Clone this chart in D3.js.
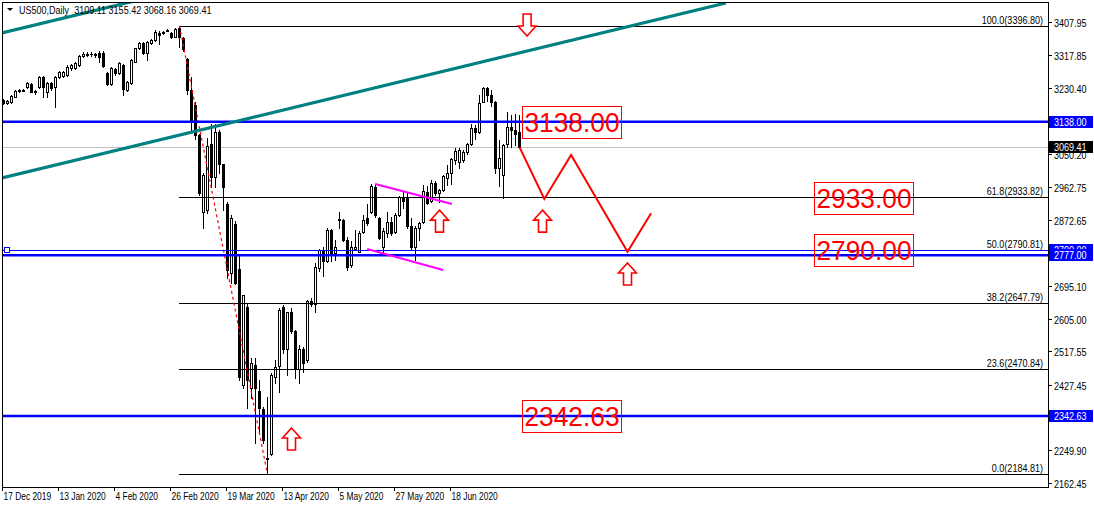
<!DOCTYPE html>
<html><head><meta charset="utf-8">
<script src="https://cdn.jsdelivr.net/npm/d3@7"></script>
<style>
body{margin:0;background:#fff}
svg{display:block}
text{font-family:"Liberation Sans",Arial,sans-serif}
</style>
</head><body>
<svg id="chart" width="1094" height="508"></svg>
<script>
// ---------- data ----------
const symbolTitle = "US500,Daily  3109.11 3155.42 3068.16 3069.41";
const opens  = [3196,3188,3192,3206,3221,3224,3233,3240,3219,3233,3260,3219,3243,3233,3258,3262,3264,3282,3282,3291,3316,3320,3322,3319,3325,3325,3269,3240,3280,3269,3291,3224,3242,3300,3336,3350,3323,3350,3359,3378,3377,3384,3377,3368,3390,3363,3307,3224,3183,3102,2895,2899,3078,2989,3111,3024,2915,2728,2862,2739,2426,2636,2417,2480,2411,2361,2230,2240,2447,2478,2638,2525,2625,2573,2469,2523,2494,2654,2645,2742,2790,2762,2846,2783,2872,2872,2818,2750,2795,2787,2841,2877,2895,2962,2877,2800,2838,2868,2840,2886,2935,2935,2855,2800,2850,2868,2948,2925,2971,2946,2954,2985,2998,3034,3030,3034,3057,3079,3120,3111,3192,3228,3210,3190,3012,2994,3079,3124,3115,3109.11];
const highs  = [3200,3197,3210,3224,3226,3226,3245,3242,3225,3262,3262,3245,3246,3261,3276,3276,3291,3295,3300,3318,3326,3327,3327,3324,3328,3328,3271,3285,3284,3300,3294,3248,3308,3338,3353,3353,3356,3362,3385,3384,3384,3389,3380,3392,3396.8,3366,3310,3260,3190,3105,3000,3093,3133,3133,3115,3025,2920,2885,2870,2777,2670,2647,2498,2498,2440,2368,2395,2458,2494,2634,2643,2625,2634,2575,2534,2530,2656,2661,2755,2795,2800,2851,2848,2819,2895,2875,2827,2815,2845,2842,2887,2915,2970,2968,2880,2850,2895,2880,2890,2938,2948,2945,2877,2855,2866,2968,2964,2980,2978,2957,2995,3021,3040,3068,3066,3062,3081,3131,3129,3211,3233,3232,3224,3195,3088,3079,3165,3156,3160,3155.42];
const lows   = [3185,3186,3188,3204,3219,3220,3230,3217,3214,3229,3204,3204,3225,3179,3255,3260,3262,3279,3280,3289,3314,3316,3315,3313,3300,3285,3238,3236,3265,3266,3210,3221,3240,3298,3334,3320,3305,3348,3357,3348,3375,3382,3365,3366,3341,3330,3212,3115,3090,2940,2852,2890,2962,2962,2998,2898,2715,2703,2700,2440,2417,2363,2390,2269,2298,2269,2184.81,2236,2431,2408,2512,2453,2566,2444,2433,2462,2489,2640,2625,2735,2721,2760,2761,2765,2850,2815,2737,2745,2790,2785,2838,2860,2890,2880,2822,2782,2827,2833,2838,2884,2905,2850,2793,2764,2817,2865,2915,2922,2939,2922,2950,2968,2969,3023,3012,3030,3051,3075,3090,3108,3190,3193,3181,2999,2965,2931,3070,3070,3075,3068.16];
const closes = [3188,3194,3207,3221,3224,3222,3242,3219,3222,3260,3233,3242,3228,3258,3273,3273,3287,3291,3296,3316,3320,3322,3320,3321,3314,3289,3240,3282,3269,3296,3226,3246,3305,3336,3350,3323,3354,3359,3381,3373,3381,3386,3368,3388,3368,3334,3224,3138,3102,2944,2994,3072,2989,3111,3024,2961,2737,2877,2703,2449,2670,2440,2487,2417,2363,2278,2226,2453,2476,2629,2525,2624,2573,2469,2525,2487,2654,2645,2746,2791,2762,2846,2783,2800,2876,2818,2745,2799,2800,2836,2872,2863,2965,2886,2823,2843,2868,2836,2886,2935,2925,2855,2800,2850,2863,2950,2917,2972,2946,2954,2990,2998,3036,3058,3061,3057,3079,3120,3111,3188,3228,3210,3190,3012,3039,3075,3124,3116,3106,3069.41];
const lastPrice = 3069.41;

const priceTickValues = [3407.95,3317.85,3230.40,3050.20,2962.75,2872.65,2695.10,2605.00,2517.55,2427.45,2249.90,2162.45];
const dateTickBars   = [0,14,28,42,56,70,84,98,112];
const dateTickLabels = ["17 Dec 2019","13 Jan 2020","4 Feb 2020","26 Feb 2020","19 Mar 2020","13 Apr 2020","5 May 2020","27 May 2020","18 Jun 2020"];

const fibRatios = ["100.0","61.8","50.0","38.2","23.6","0.0"];
const fibPrices = [3396.80,2933.82,2790.81,2647.79,2470.84,2184.81];
const fibStartBar = 44, fibEndBar = 66;

const blueThickLevels = [3138.00,2777.00,2342.63];
const blueThinLevels  = [2790.00];
const blueLabelLevels = [3138.00,2790.00,2777.00,2342.63];

const tealLower = [[-0.375,2985.8],[180.6,3458.8]];
const tealUpper = [[-0.375,3377.7],[180.6,3850.7]];
const pinkUpper = [[92.9,2969.6],[112.1,2915.6]];
const pinkLower = [[90.9,2793.9],[109.9,2737.2]];
const zigzag    = [[129,3069.41],[135.2,2929.1],[141.9,3048.0],[156.0,2786.6],[161.9,2890.4]];

const upArrows   = [[72,2310],[109,2899],[134.75,2899],[156,2756]]; // tip position
const downArrows = [[130.9,3369.6]];

const bigLabels = [["3138.00",129.6,3138.00],["2933.00",202.6,2933.00],["2790.00",202.6,2790.00],["2342.63",129.6,2342.63]];

// ---------- scales ----------
const W = 1094, H = 508;
const L = 2, R = 1048, T = 2, B = 487;
const x = d3.scaleLinear().domain([-0.375, 261.125]).range([L, R]);
const y = d3.scaleLinear().domain([2150.7, 3461.5]).range([B, T]);

// narrow the small MT4-style texts (Tahoma-like width)
function squeeze(sel, f) {
  sel.each(function () {
    const w = this.getComputedTextLength();
    d3.select(this).attr("textLength", w * f).attr("lengthAdjust", "spacingAndGlyphs");
  });
  return sel;
}
const NARROW = 0.82;

const svg = d3.select("#chart");
svg.append("rect").attr("width", W).attr("height", H).attr("fill", "#fff");

svg.append("clipPath").attr("id", "plot").append("rect")
  .attr("x", L).attr("y", T).attr("width", R - L).attr("height", B - T);

const g = svg.append("g").attr("clip-path", "url(#plot)");
const line = d3.line().x(d => x(d[0])).y(d => y(d[1]));

// current price line
g.append("line").attr("x1", L).attr("x2", R)
  .attr("y1", Math.round(y(lastPrice)) + 0.5).attr("y2", Math.round(y(lastPrice)) + 0.5)
  .attr("stroke", "#c0c0c0").attr("stroke-width", 1);

// candles
const idx = d3.range(closes.length);
const cg = g.append("g").attr("shape-rendering", "crispEdges");
cg.selectAll("line.wick").data(idx).join("line")
  .attr("x1", i => Math.floor(x(i)) + 0.5).attr("x2", i => Math.floor(x(i)) + 0.5)
  .attr("y1", i => Math.round(y(highs[i]))).attr("y2", i => Math.round(y(lows[i])) + 1)
  .attr("stroke", "#000").attr("stroke-width", 1);
cg.selectAll("rect.body").data(idx).join("rect")
  .attr("x", i => closes[i] >= opens[i] ? Math.floor(x(i)) - 0.5 : Math.floor(x(i)) - 1)
  .attr("width", i => closes[i] >= opens[i] ? 2 : 3)
  .attr("y", i => {
    const t = Math.round(y(Math.max(opens[i], closes[i])));
    return closes[i] >= opens[i] ? t + 0.5 : t;
  })
  .attr("height", i => {
    const t = Math.round(y(Math.max(opens[i], closes[i])));
    const b = Math.round(y(Math.min(opens[i], closes[i])));
    return Math.max(closes[i] >= opens[i] ? b - t : b - t + 1, 1);
  })
  .attr("fill", i => closes[i] >= opens[i] ? "#fff" : "#000")
  .attr("stroke", i => closes[i] >= opens[i] ? "#000" : "none")
  .attr("stroke-width", 1);

// fib levels
const fg = g.append("g");
fibPrices.forEach((p, k) => {
  const yy = Math.round(y(p)) + 0.5;
  fg.append("line").attr("x1", x(fibStartBar) - 0.5).attr("x2", R).attr("y1", yy).attr("y2", yy)
    .attr("stroke", "#000").attr("stroke-width", 1).attr("shape-rendering", "crispEdges");
});
g.append("path").datum([[fibStartBar, fibPrices[0]], [fibEndBar, fibPrices[5]]])
  .attr("d", line).attr("fill", "none").attr("stroke", "#ff0000").attr("stroke-width", 1.2)
  .attr("stroke-dasharray", "3,3");

// blue horizontal lines
blueThickLevels.forEach(p => {
  g.append("line").attr("x1", L).attr("x2", R).attr("y1", y(p)).attr("y2", y(p))
    .attr("stroke", "#0000ff").attr("stroke-width", 2.4);
});
blueThinLevels.forEach(p => {
  const yy = Math.round(y(p)) + 0.5;
  g.append("line").attr("x1", L).attr("x2", R).attr("y1", yy).attr("y2", yy)
    .attr("stroke", "#0000ff").attr("stroke-width", 1).attr("shape-rendering", "crispEdges");
  g.append("rect").attr("x", 4.5).attr("y", yy - 3).attr("width", 5).attr("height", 5)
    .attr("fill", "#fff").attr("stroke", "#0000ff").attr("stroke-width", 1);
});

// teal channel
[tealLower, tealUpper].forEach(d => {
  g.append("path").datum(d).attr("d", line).attr("fill", "none")
    .attr("stroke", "#008080").attr("stroke-width", 3.2);
});

// magenta lines
[pinkUpper, pinkLower].forEach(d => {
  g.append("path").datum(d).attr("d", line).attr("fill", "none")
    .attr("stroke", "#ff00ff").attr("stroke-width", 2);
});

// red zigzag
g.append("path").datum(zigzag).attr("d", line).attr("fill", "none")
  .attr("stroke", "#ff0000").attr("stroke-width", 2);

// arrows
function arrowPath(cx, tip, dir) {
  const hw = 9, sw = 4, hh = 10, total = 22;
  const s = dir;
  const pts = [
    [cx, tip],
    [cx + hw, tip + s * hh],
    [cx + sw, tip + s * hh],
    [cx + sw, tip + s * total],
    [cx - sw, tip + s * total],
    [cx - sw, tip + s * hh],
    [cx - hw, tip + s * hh]
  ];
  return "M" + pts.map(p => p.join(",")).join("L") + "Z";
}
upArrows.forEach(([b, p]) => {
  g.append("path").attr("d", arrowPath(x(b), y(p), 1))
    .attr("fill", "#fff").attr("stroke", "#ff0000").attr("stroke-width", 1.6);
});
downArrows.forEach(([b, p]) => {
  g.append("path").attr("d", arrowPath(x(b), y(p), -1))
    .attr("fill", "#fff").attr("stroke", "#ff0000").attr("stroke-width", 1.6);
});

// big red price labels
bigLabels.forEach(([t, b, p]) => {
  const bx = Math.round(x(b)) + 0.5, by = Math.round(y(p));
  g.append("rect").attr("x", bx).attr("y", by - 15.5).attr("width", 99).attr("height", 32)
    .attr("fill", "none").attr("stroke", "#ff0000").attr("stroke-width", 1);
  g.append("text").attr("x", bx + 49.5).attr("y", by + 10).attr("text-anchor", "middle")
    .attr("font-size", 28).attr("fill", "#ff0000")
    .attr("textLength", 95).attr("lengthAdjust", "spacingAndGlyphs").text(t);
});

// fib texts
fibPrices.forEach((p, k) => {
  squeeze(g.append("text").attr("x", R - 5).attr("y", Math.round(y(p)) - 2)
    .attr("text-anchor", "end").attr("font-size", 11).attr("fill", "#000")
    .text(fibRatios[k] + "(" + p.toFixed(2) + ")"), NARROW);
});

// frame
svg.append("rect").attr("x", L + 0.5).attr("y", T + 0.5).attr("width", R - L).attr("height", B - T)
  .attr("fill", "none").attr("stroke", "#000").attr("stroke-width", 1).attr("shape-rendering", "crispEdges");

// right price axis
const ax = svg.append("g").attr("shape-rendering", "crispEdges");
priceTickValues.forEach(p => {
  const yy = Math.round(y(p)) + 0.5;
  ax.append("line").attr("x1", R).attr("x2", R + 4).attr("y1", yy).attr("y2", yy).attr("stroke", "#000");
  squeeze(svg.append("text").attr("x", R + 6).attr("y", yy + 4).attr("font-size", 11).attr("fill", "#000")
    .text(p.toFixed(2)), NARROW);
});
// blue value labels
blueLabelLevels.forEach(p => {
  const yy = Math.round(y(p));
  svg.append("rect").attr("x", R + 1).attr("y", yy - 6).attr("width", 44).attr("height", 12)
    .attr("fill", "#0000ff");
  squeeze(svg.append("text").attr("x", R + 6).attr("y", yy + 4).attr("font-size", 11).attr("fill", "#fff")
    .text(p.toFixed(2)), NARROW);
});
// current price label
{
  const yy = Math.round(y(lastPrice));
  svg.append("rect").attr("x", R + 1).attr("y", yy - 6).attr("width", 44).attr("height", 12)
    .attr("fill", "#000");
  squeeze(svg.append("text").attr("x", R + 6).attr("y", yy + 4).attr("font-size", 11).attr("fill", "#fff")
    .text(lastPrice.toFixed(2)), NARROW);
}

// date axis
dateTickBars.forEach((b, k) => {
  const xx = Math.round(x(b) - 1.5) + 0.5;
  ax.append("line").attr("x1", xx).attr("x2", xx).attr("y1", B).attr("y2", B + 4).attr("stroke", "#000");
  squeeze(svg.append("text").attr("x", xx + 1).attr("y", 500).attr("font-size", 10).attr("fill", "#000")
    .text(dateTickLabels[k]), 0.84);
});

// header
svg.append("path").attr("d", "M7,8L13,8L10,11Z").attr("fill", "#000");
squeeze(svg.append("text").attr("x", 19).attr("y", 14).attr("font-size", 11).attr("fill", "#000")
  .attr("xml:space", "preserve").style("white-space", "pre").text(symbolTitle), NARROW);
</script>
</body></html>
